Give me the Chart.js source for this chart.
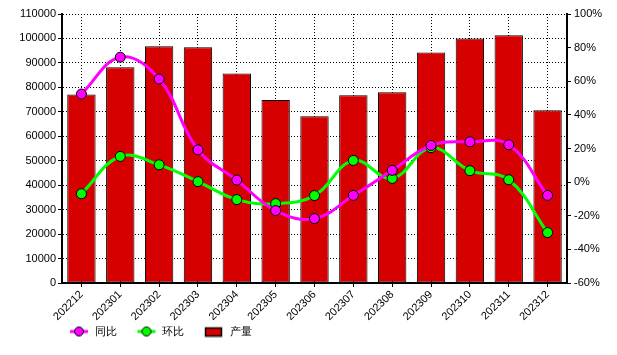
<!DOCTYPE html>
<html>
<head>
<meta charset="utf-8">
<script src="https://cdn.jsdelivr.net/npm/chart.js@4"></script>
<style>
html,body{margin:0;padding:0;background:#fff;}
#wrap{width:617px;height:355px;position:relative;}
</style>
</head>
<body>
<div id="wrap"><canvas id="c" width="617" height="355"></canvas></div>
<script>
const categories = ['202212','202301','202302','202303','202304','202305','202306','202307','202308','202309','202310','202311','202312'];
const output = [77100, 88200, 96800, 96400, 85700, 74800, 68200, 76800, 78000, 94300, 100000, 101300, 70600];
const yoy = [52.4, 74.3, 61.3, 19.2, 1.2, -16.9, -21.7, -7.9, 7.0, 21.8, 24.0, 22.2, -7.9];
const mom = [-6.9, 15.3, 10.3, 0.3, -10.4, -12.8, -8.0, 12.9, 2.2, 20.5, 6.8, 1.4, -30.0];
const leftTicks = [0, 110000, 10000];
const rightTicks = [-60, 100, 20];
const seriesNames = ['同比', '环比', '产量'];

const FONT = 'Arial, "Liberation Sans", sans-serif';
Chart.defaults.font.family = FONT;
Chart.defaults.font.size = 11;
Chart.defaults.color = '#000';

const ICON_W = 36, ICON_GAP = 16;
function lineIcon(color){
  const cv = document.createElement('canvas');
  cv.width = ICON_W; cv.height = 12;
  const g = cv.getContext('2d');
  const x0 = ICON_GAP;
  g.strokeStyle = color; g.lineWidth = 3;
  g.beginPath(); g.moveTo(x0 + 1, 6); g.lineTo(x0 + 19, 6); g.stroke();
  g.beginPath(); g.arc(x0 + 10, 6, 4.5, 0, Math.PI * 2);
  g.fillStyle = color; g.fill();
  g.lineWidth = 1; g.strokeStyle = '#000'; g.stroke();
  return cv;
}
function boxIcon(color){
  const cv = document.createElement('canvas');
  cv.width = ICON_W; cv.height = 12;
  const g = cv.getContext('2d');
  const x0 = ICON_GAP + 1;
  g.fillStyle = color; g.fillRect(x0 + 0.5, 2.5, 16, 8);
  g.strokeStyle = '#000'; g.lineWidth = 1.5; g.strokeRect(x0 + 0.5, 2.5, 16, 8);
  return cv;
}
const icons = [lineIcon('#FF00FF'), lineIcon('#00FF00'), boxIcon('#D70000')];

const CHART_BOTTOM = 283, CHART_TOP = 14, LEFT_W = 62, RIGHT_W = 50;

const legendShift = {
  id: 'legendShift',
  afterLayout(chart){
    const lg = chart.legend;
    if (lg) { lg.left = 49; lg.top = 322; }
  }
};

new Chart(document.getElementById('c'), {
  type: 'bar',
  data: {
    labels: categories,
    datasets: [
      {
        type: 'line', label: seriesNames[0], data: yoy, yAxisID: 'y1', order: 1,
        borderColor: '#FF00FF', backgroundColor: '#FF00FF', borderWidth: 3,
        pointRadius: 5, pointBorderWidth: 1, pointBorderColor: '#000',
        pointBackgroundColor: '#FF00FF', tension: 0.4, fill: false
      },
      {
        type: 'line', label: seriesNames[1], data: mom, yAxisID: 'y1', order: 2,
        borderColor: '#00FF00', backgroundColor: '#00FF00', borderWidth: 3,
        pointRadius: 5, pointBorderWidth: 1, pointBorderColor: '#000',
        pointBackgroundColor: '#00FF00', tension: 0.4, fill: false
      },
      {
        type: 'bar', label: seriesNames[2], data: output, yAxisID: 'y', order: 3,
        backgroundColor: '#D70000', borderColor: '#000', borderWidth: 1,
        borderSkipped: false, barPercentage: 0.73, categoryPercentage: 1
      }
    ]
  },
  options: {
    responsive: false,
    animation: false,
    layout: { padding: { top: CHART_TOP, left: 0, right: 0, bottom: 0 } },
    plugins: {
      tooltip: { enabled: false },
      legend: {
        display: true, position: 'bottom', align: 'start',
        labels: {
          usePointStyle: true, pointStyleWidth: ICON_W, padding: 4,
          font: { size: 11, family: FONT }, color: '#000',
          generateLabels(chart){
            return chart.data.datasets.map((ds, i) => ({
              text: ds.label, pointStyle: icons[i], datasetIndex: i,
              fillStyle: 'transparent', strokeStyle: 'transparent', lineWidth: 0, hidden: false
            }));
          }
        }
      }
    },
    scales: {
      x: {
        offset: true,
        grid: { display: true, offset: false, color: '#000', lineWidth: 1, tickLength: 4, tickBorderDash: [], drawOnChartArea: true },
        border: { display: true, color: '#000', width: 2, dash: [1, 2] },
        ticks: { autoSkip: false, minRotation: 45, maxRotation: 45, padding: 1, font: { size: 11 } },
        afterFit(scale){
          const lh = scale.chart.legend ? scale.chart.legend.height : 0;
          scale.height = 355 - CHART_BOTTOM - lh;
        }
      },
      y: {
        position: 'left', min: leftTicks[0], max: leftTicks[1],
        grid: { color: '#000', lineWidth: 1, tickLength: 4, tickBorderDash: [] },
        border: { display: true, color: '#000', width: 2, dash: [1, 2] },
        ticks: { stepSize: leftTicks[2], padding: 2, font: { size: 11 }, callback: v => String(v) },
        afterFit(scale){ scale.width = LEFT_W; }
      },
      y1: {
        position: 'right', min: rightTicks[0], max: rightTicks[1],
        grid: { drawOnChartArea: false, color: '#000', tickLength: 4 },
        border: { display: true, color: '#000', width: 2 },
        ticks: { stepSize: rightTicks[2], padding: 3, font: { size: 11 }, callback: v => v + '%' },
        afterFit(scale){ scale.width = RIGHT_W; }
      }
    }
  },
  plugins: [legendShift]
});
</script>
</body>
</html>
